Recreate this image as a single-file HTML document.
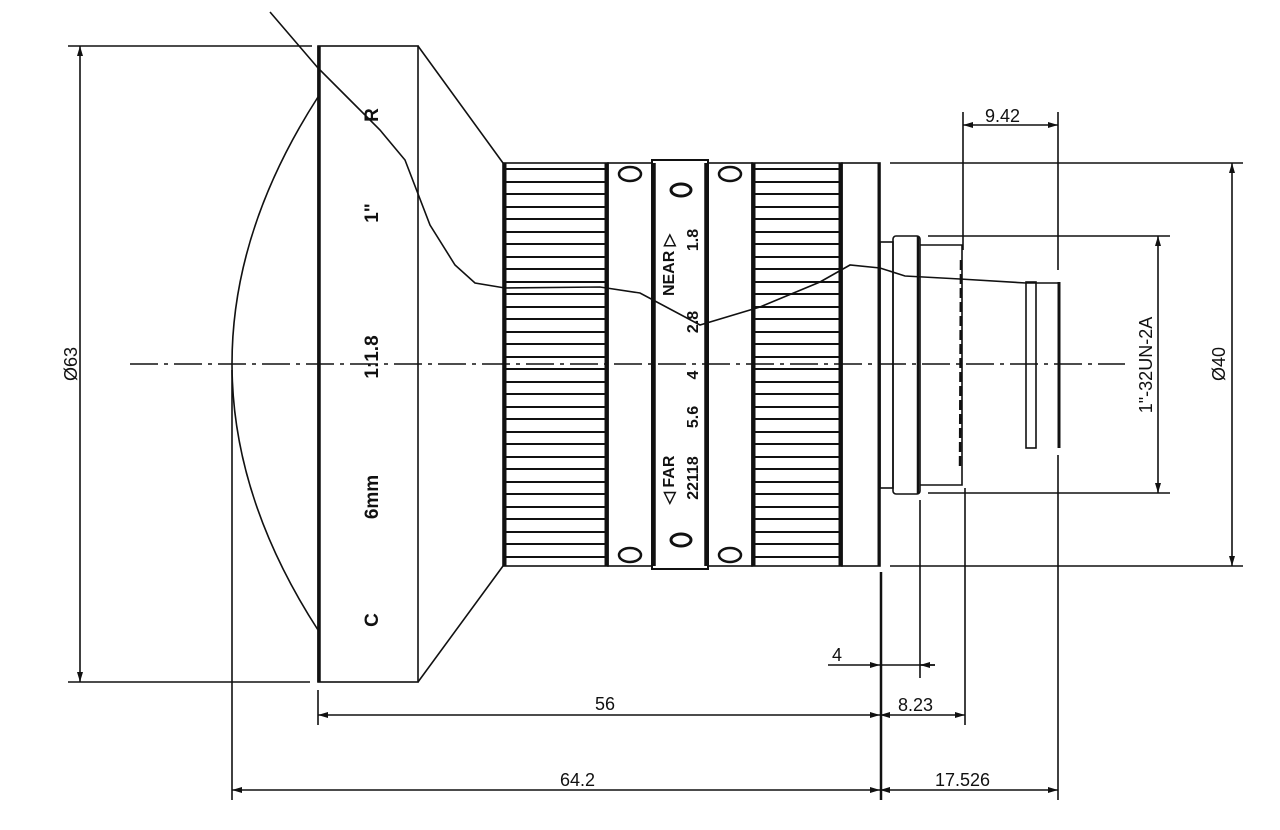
<!DOCTYPE html>
<html><head><meta charset="utf-8"><style>
html,body{margin:0;padding:0;background:#fff;}
svg{display:block;}
text{font-family:"Liberation Sans",sans-serif;fill:#111;}
.b{font-weight:bold;font-size:19px;}
</style></head><body>
<svg width="1280" height="830" viewBox="0 0 1280 830" xmlns="http://www.w3.org/2000/svg">
<defs>
<pattern id="kn" x="0" y="163" width="10" height="25" patternUnits="userSpaceOnUse">
<line x1="0" y1="6" x2="10" y2="6" stroke="#111" stroke-width="2"/>
<line x1="0" y1="19" x2="10" y2="19" stroke="#111" stroke-width="2"/>
</pattern>
<marker id="a" viewBox="0 0 10 6" refX="10" refY="3" markerWidth="10" markerHeight="6" orient="auto-start-reverse" markerUnits="userSpaceOnUse">
<path d="M0,0 L10,3 L0,6 z" fill="#111"/></marker>
</defs>
<g stroke="#111" fill="none" stroke-width="1.6">
<line x1="130" y1="364" x2="1125" y2="364" stroke-dasharray="28,6,4,6"/>
<rect x="318" y="46" width="100" height="636"/>
<line x1="319" y1="46" x2="319" y2="682" stroke-width="3.5"/>
<line x1="68" y1="46" x2="312" y2="46"/>
<line x1="68" y1="682" x2="310" y2="682"/>
<line x1="80" y1="46" x2="80" y2="682" marker-start="url(#a)" marker-end="url(#a)"/>
<path d="M318,97 Q146,364 318,630"/>
<path d="M418,46 L503,163 M418,682 L503,566"/>
<rect x="503" y="163" width="105" height="403" fill="url(#kn)"/>
<rect x="752" y="163" width="90" height="403" fill="url(#kn)"/>
<line x1="505" y1="163" x2="505" y2="566" stroke-width="3"/>
<line x1="606" y1="163" x2="606" y2="566" stroke-width="3"/>
<line x1="754" y1="163" x2="754" y2="566" stroke-width="3"/>
<line x1="840" y1="163" x2="840" y2="566" stroke-width="3"/>
<rect x="608" y="163" width="44" height="403"/>
<rect x="652" y="160" width="56" height="409" stroke-width="2"/>
<line x1="654" y1="163" x2="654" y2="566" stroke-width="3.5"/>
<line x1="706" y1="163" x2="706" y2="566" stroke-width="3.5"/>
<rect x="708" y="163" width="44" height="403"/>
<rect x="842" y="163" width="38" height="403"/>
<line x1="879" y1="163" x2="879" y2="566" stroke-width="3"/>
<ellipse cx="630" cy="174" rx="11" ry="7" stroke-width="2.5"/>
<ellipse cx="730" cy="174" rx="11" ry="7" stroke-width="2.5"/>
<ellipse cx="630" cy="555" rx="11" ry="7" stroke-width="2.5"/>
<ellipse cx="730" cy="555" rx="11" ry="7" stroke-width="2.5"/>
<ellipse cx="681" cy="190" rx="10" ry="6" stroke-width="3"/>
<ellipse cx="681" cy="540" rx="10" ry="6" stroke-width="3"/>
<rect x="880" y="242" width="13" height="246"/>
<rect x="893" y="236" width="27" height="258" rx="3"/>
<line x1="918" y1="236" x2="918" y2="494" stroke-width="2.5"/>
<path d="M920,245 L962,245 L962,485 L920,485"/>
<line x1="961" y1="260" x2="960" y2="470" stroke-width="2.5" stroke-dasharray="10,4"/>
<rect x="1026" y="282" width="10" height="166"/>
<line x1="1059" y1="282" x2="1059" y2="448" stroke-width="3"/>
<path d="M270,12 L318,68 L350,100 L380,130 L405,160 L430,225 L455,265 L475,283 L505,288 L600,287 L640,293 L700,325 L760,307 L820,282 L850,265 L880,268 L905,276 L960,279 L1026,283 L1060,283"/>
<line x1="963" y1="112" x2="963" y2="250"/>
<line x1="1058" y1="112" x2="1058" y2="270"/>
<line x1="963" y1="125" x2="1058" y2="125" marker-start="url(#a)" marker-end="url(#a)"/>
<line x1="890" y1="163" x2="1243" y2="163"/>
<line x1="890" y1="566" x2="1243" y2="566"/>
<line x1="1232" y1="163" x2="1232" y2="566" marker-start="url(#a)" marker-end="url(#a)"/>
<line x1="928" y1="236" x2="1170" y2="236"/>
<line x1="928" y1="493" x2="1170" y2="493"/>
<line x1="1158" y1="236" x2="1158" y2="493" marker-start="url(#a)" marker-end="url(#a)"/>
<line x1="232" y1="370" x2="232" y2="800"/>
<line x1="318" y1="690" x2="318" y2="725"/>
<line x1="881" y1="572" x2="881" y2="800" stroke-width="2.5"/>
<line x1="920" y1="500" x2="920" y2="678"/>
<line x1="965" y1="488" x2="965" y2="725"/>
<line x1="1058" y1="455" x2="1058" y2="800"/>
<line x1="318" y1="715" x2="880" y2="715" marker-start="url(#a)" marker-end="url(#a)"/>
<line x1="880" y1="715" x2="965" y2="715" marker-start="url(#a)" marker-end="url(#a)"/>
<line x1="828" y1="665" x2="880" y2="665" marker-end="url(#a)"/>
<line x1="880" y1="665" x2="935" y2="665"/>
<line x1="935" y1="665" x2="920" y2="665" marker-end="url(#a)"/>
<line x1="232" y1="790" x2="880" y2="790" marker-start="url(#a)" marker-end="url(#a)"/>
<line x1="880" y1="790" x2="1058" y2="790" marker-start="url(#a)" marker-end="url(#a)"/>
</g>
<g font-size="18">
<text x="985" y="122">9.42</text>
<text x="595" y="710">56</text>
<text x="898" y="711">8.23</text>
<text x="832" y="661">4</text>
<text x="560" y="786">64.2</text>
<text x="935" y="786">17.526</text>
<text transform="translate(77,364) rotate(-90)" text-anchor="middle">Ø63</text>
<text transform="translate(1225,364) rotate(-90)" text-anchor="middle">Ø40</text>
<text transform="translate(1152,365) rotate(-90)" text-anchor="middle">1"-32UN-2A</text>
</g>
<g>
<text class="b" transform="translate(378,115) rotate(-90)" text-anchor="middle">R</text>
<text class="b" transform="translate(378,213) rotate(-90)" text-anchor="middle">1"</text>
<text class="b" transform="translate(378,357) rotate(-90)" text-anchor="middle">1:1.8</text>
<text class="b" transform="translate(378,497) rotate(-90)" text-anchor="middle">6mm</text>
<text class="b" transform="translate(378,620) rotate(-90)" text-anchor="middle">C</text>
<text class="b" style="font-size:16px" transform="translate(674,265) rotate(-90)" text-anchor="middle">NEAR ▷</text>
<text class="b" style="font-size:16px" transform="translate(698,240) rotate(-90)" text-anchor="middle">1.8</text>
<text class="b" style="font-size:16px" transform="translate(698,322) rotate(-90)" text-anchor="middle">2.8</text>
<text class="b" style="font-size:16px" transform="translate(698,375) rotate(-90)" text-anchor="middle">4</text>
<text class="b" style="font-size:16px" transform="translate(698,417) rotate(-90)" text-anchor="middle">5.6</text>
<text class="b" style="font-size:16px" transform="translate(698,478) rotate(-90)" text-anchor="middle">22118</text>
<text class="b" style="font-size:16px" transform="translate(674,480) rotate(-90)" text-anchor="middle">◁ FAR</text>
</g>
</svg>
</body></html>
